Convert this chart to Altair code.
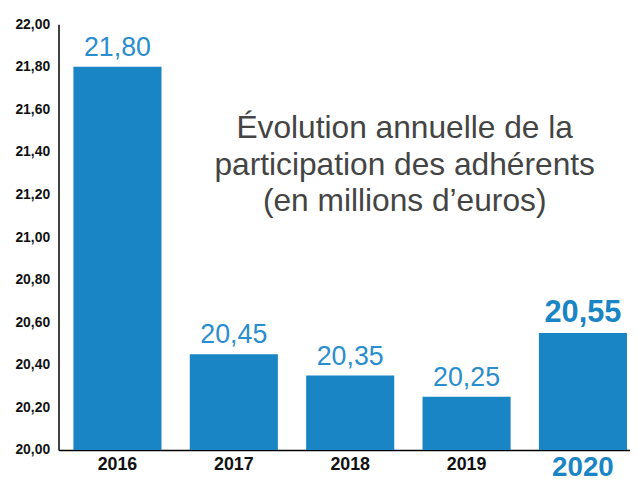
import altair as alt
import pandas as pd

years = ["2016", "2017", "2018", "2019", "2020"]
values = [21.80, 20.45, 20.35, 20.25, 20.55]
highlight = [False, False, False, False, True]
y_ticks = [20.0, 20.2, 20.4, 20.6, 20.8, 21.0, 21.2, 21.4, 21.6, 21.8, 22.0]
title_lines = ["Évolution annuelle de la", "participation des adhérents", "(en millions d’euros)"]

df = pd.DataFrame({"year": years, "value": values, "hl": highlight})
df["base"] = 20.0

FONT = "Liberation Sans"
BAR = "#1985c4"

x_scale = alt.Scale(range=[0, 589], paddingInner=0.243, paddingOuter=0.128)

x_enc = alt.X(
    "year:N",
    sort=years,
    title=None,
    scale=x_scale,
    axis=alt.Axis(
        domainColor="black",
        domainWidth=1.5,
        ticks=False,
        labelAngle=0,
        labelFont=FONT,
        labelFontWeight="bold",
        labelFontSize={"condition": {"test": "datum.value == '2020'", "value": 28}, "value": 18},
        labelColor={"condition": {"test": "datum.value == '2020'", "value": "#1a85c5"}, "value": "#111111"},
        labelPadding={"condition": {"test": "datum.value == '2020'", "value": 4}, "value": 6},
        labelBaseline="top",
    ),
)

y_scale = alt.Scale(domain=[20, 22], zero=False, nice=False)

bars = alt.Chart(df).mark_bar(color=BAR).encode(
    x=x_enc,
    y=alt.Y(
        "value:Q",
        scale=y_scale,
        title=None,
        axis=alt.Axis(
            values=y_ticks,
            grid=False,
            ticks=False,
            domainColor="black",
            domainWidth=1.5,
            labelFont=FONT,
            labelFontWeight="bold",
            labelFontSize=14,
            labelColor="#111111",
            labelPadding=9,
            labelExpr="replace(format(datum.value, '.2f'), '.', ',')",
        ),
    ),
    y2="base:Q",
)

labels_base = alt.Chart(df).transform_calculate(
    lab="replace(format(datum.value, '.2f'), '.', ',')"
)

labels_normal = labels_base.transform_filter("!datum.hl").mark_text(
    font=FONT, fontSize=27, color="#2a8dcd", baseline="alphabetic", dy=-11
).encode(x=alt.X("year:N", sort=years, scale=x_scale), y=alt.Y("value:Q", scale=y_scale), text="lab:N")

labels_hl = labels_base.transform_filter("datum.hl").mark_text(
    font=FONT, fontSize=31, fontWeight="bold", color="#1a85c5", baseline="alphabetic", dy=-11
).encode(x=alt.X("year:N", sort=years, scale=x_scale), y=alt.Y("value:Q", scale=y_scale), text="lab:N")

title_df = pd.DataFrame({"t": ["\n".join(title_lines)]})
title_text = alt.Chart(title_df).mark_text(
    font=FONT, fontSize=32, color="#444444", align="center", baseline="alphabetic",
    lineBreak="\n", lineHeight=37,
).encode(x=alt.value(349.5), y=alt.value(115), text="t:N")

chart = (
    alt.layer(bars, labels_normal, labels_hl, title_text)
    .properties(
        width=577,
        height=430,
        autosize=alt.AutoSizeParams(type="none"),
        padding={"left": 51, "top": 14, "right": 0, "bottom": 32},
    )
    .configure_view(stroke=None)
)

chart.save("out.html", embed_options={"renderer": "svg", "actions": False})
